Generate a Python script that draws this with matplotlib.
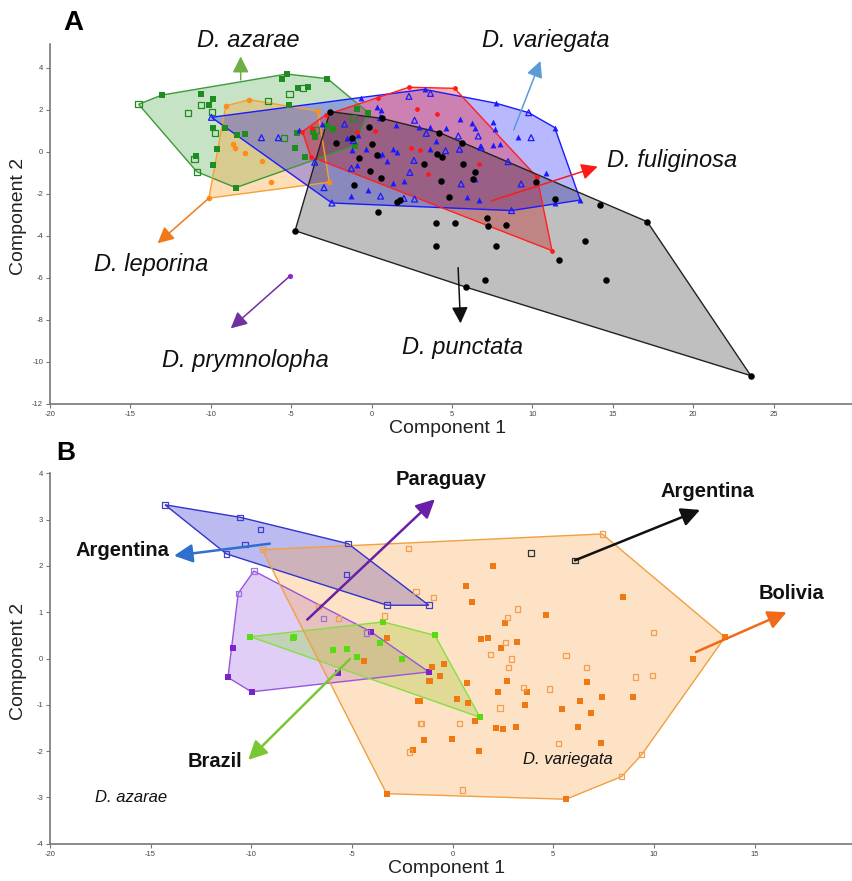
import numpy as np
import matplotlib.pyplot as plt

plt.rcParams['font.family'] = ['Liberation Sans', 'DejaVu Sans']
plt.rcParams['axes.unicode_minus'] = False

# ---------------- panel A data (component 1, component 2) ----------------
azarae_fill = [(-13.04, 2.71), (-5.28, 3.71), (-2.75, 3.49), (-0.2, 1.87), (-1.06, 0.3),
               (-8.45, -1.7), (-10.62, 2.76), (-9.86, 2.51), (-10.12, 2.24), (-5.55, 3.48),
               (-4.58, 3.03), (-3.93, 3.11), (-5.14, 2.25), (-9.09, 1.16), (-9.86, 1.14),
               (-9.61, 0.14), (-9.86, -0.6), (-10.93, -0.19), (-7.87, 0.87), (-8.4, 0.82),
               (-4.66, 0.92), (-4.78, 0.2), (-4.14, -0.25), (-3.65, 0.94), (-3.52, 0.73),
               (-2.8, 1.25), (-2.38, 1.08), (-0.89, 2.05)]
azarae_open = [(-14.49, 2.27), (-10.87, -0.94), (-11.43, 1.84), (-10.62, 2.25), (-9.92, 1.92),
               (-9.73, 0.92), (-11.01, -0.33), (-6.44, 2.44), (-5.11, 2.75), (-4.27, 3.03),
               (-5.47, 0.68), (-3.44, 1.06), (-1.14, 1.6)]
leporina = [(-9.07, 2.19), (-7.62, 2.49), (-3.35, 1.95), (-2.63, -1.44), (-10.12, -2.2),
            (-8.59, 0.4), (-8.49, 0.2), (-7.87, -0.05), (-6.81, -0.44), (-6.23, -1.44)]
variegata_fill = [(-0.68, 2.59), (3.29, 2.98), (7.74, 2.32), (11.39, 1.16), (12.98, -2.29),
                  (11.43, -2.44), (0.31, 2.13), (0.56, 2.0), (1.49, 1.29), (-4.51, 1.05),
                  (-3.06, 1.33), (-1.51, 0.65), (-0.85, 0.81), (-1.2, 0.1), (-0.37, 0.13),
                  (-0.89, -0.62), (0.45, -0.14), (0.66, -0.1), (0.98, -0.43), (1.6, 0.02),
                  (1.35, 0.14), (2.01, -1.38), (1.35, -1.49), (-0.23, -1.81), (-1.3, -2.08),
                  (2.94, 1.21), (3.66, 1.21), (3.98, 0.54), (3.66, 0.14), (4.6, 1.13),
                  (6.25, 1.37), (6.46, 1.16), (6.77, 0.3), (5.94, -2.13), (6.66, -2.29),
                  (5.47, 1.57), (7.53, 1.41), (7.66, 1.08), (9.09, 0.73), (7.56, 0.33),
                  (8.01, 0.37), (6.4, -1.27), (10.87, -1.02)]
variegata_open = [(-9.96, 1.65), (2.32, 2.65), (3.66, 2.79), (-1.68, 1.33), (0.56, 1.63),
                  (2.67, 1.51), (3.4, 0.89), (5.39, 0.76), (6.63, 0.76), (-1.26, -0.78),
                  (2.63, -0.4), (2.38, -0.97), (4.6, 0.06), (5.57, -1.52), (2.01, -2.21),
                  (2.67, -2.24), (-2.96, -1.7), (-2.47, -2.43), (-3.54, -0.49), (9.77, 1.87),
                  (8.7, -2.79), (8.49, -0.46), (9.3, -1.52), (9.92, 0.68), (5.47, 0.13),
                  (6.81, 0.22), (-6.85, 0.68), (-5.8, 0.68), (-1.14, 0.54), (0.56, -2.1)]
fuliginosa = [(-4.3, 0.97), (-3.79, -0.22), (11.22, -4.7), (10.29, -1.2), (5.16, 3.03),
              (2.32, 3.08), (0.41, 2.56), (-2.86, 1.76), (2.8, 2.03), (4.04, 1.79),
              (0.19, 1.02), (-0.93, 0.94), (2.47, 0.17), (3.04, 0.1), (3.52, -1.06),
              (6.69, -0.57), (-3.68, 1.13)]
punctata = [(-2.59, 1.92), (0.62, 1.6), (4.22, 0.92), (5.63, 0.41), (14.22, -2.54),
            (17.14, -3.32), (23.58, -10.65), (-4.76, -3.75), (-0.17, 1.2), (0.04, 0.37),
            (-0.79, -0.3), (-1.24, 0.65), (-2.19, 0.41), (0.35, -0.14), (-0.1, -0.9),
            (0.6, -1.25), (-1.1, -1.57), (1.6, -2.4), (1.76, -2.29), (0.41, -2.84),
            (3.25, -0.59), (4.08, -0.11), (4.39, -0.22), (4.29, -1.38), (4.84, -2.13),
            (5.7, -0.59), (6.46, -0.97), (6.32, -1.29), (4.02, -3.4), (5.16, -3.4),
            (7.19, -3.13), (7.23, -3.51), (8.37, -3.48), (3.98, -4.49), (7.75, -4.46),
            (13.25, -4.25), (11.63, -5.13), (7.08, -6.11), (5.88, -6.44), (14.6, -6.11),
            (11.43, -2.24), (10.23, -1.44)]
prymnolopha = [(-5.07, -5.9)]

# arrows: (start, end), labels with their positions
a_labels = ['D. azarae', 'D. leporina', 'D. prymnolopha', 'D. punctata', 'D. variegata', 'D. fuliginosa']
a_label_pos = [(-7.7, 5.33), (-13.73, -5.38), (-7.83, -9.95), (5.65, -9.33), (10.8, 5.33), (18.68, -0.43)]
a_arrows = [((-8.14, 3.43), (-8.14, 4.55)), ((-10.12, -2.2), (-13.31, -4.35)),
            ((-5.07, -5.9), (-8.76, -8.4)), ((5.38, -5.51), (5.53, -8.16)),
            ((8.84, 1.05), (10.5, 4.33)), ((7.45, -2.33), (14.06, -0.7))]
a_arrow_colors = ['#70ad47', '#f07a1a', '#7030a0', '#111111', '#5b9bd5', '#ff1a1a']

# ---------------- panel B data ----------------
arg_azarae = [(-14.29, 3.32), (-10.56, 3.05), (-5.19, 2.48), (-1.18, 1.15), (-3.25, 1.15),
              (-11.24, 2.26), (-9.54, 2.79), (-10.32, 2.46), (-5.27, 1.81)]
par_open = [(-9.87, 1.89), (-10.65, 1.41), (-4.27, 0.55), (-6.43, 0.86)]
par_fill = [(-10.9, 0.22), (-11.16, -0.41), (-9.99, -0.72), (-1.18, -0.29), (-5.68, -0.32),
            (-4.07, 0.58)]
brazil = [(-10.04, 0.47), (-3.45, 0.79), (-0.88, 0.5), (1.36, -1.27), (-7.92, 0.44),
          (-7.9, 0.47), (-5.93, 0.19), (-5.27, 0.2), (-4.74, 0.04), (-3.61, 0.33), (-2.53, -0.01)]
bol_fill = [(13.53, 0.46), (5.63, -3.04), (-3.28, -2.92), (2.02, 1.99), (0.66, 1.57),
            (0.97, 1.22), (8.44, 1.33), (4.62, 0.94), (2.6, 0.76), (3.18, 0.35), (1.77, 0.45),
            (1.41, 0.43), (2.38, 0.22), (11.92, 0.0), (-0.42, -0.12), (-0.63, -0.37),
            (-1.13, -0.48), (0.73, -0.52), (2.68, -0.48), (6.66, -0.51), (2.24, -0.73),
            (3.68, -0.73), (3.59, -1.0), (0.2, -0.87), (0.78, -0.96), (1.11, -1.35),
            (2.15, -1.51), (2.51, -1.53), (3.13, -1.47), (6.32, -0.91), (7.4, -0.84),
            (8.97, -0.84), (5.41, -1.09), (6.87, -1.17), (6.24, -1.49), (7.37, -1.83),
            (-0.02, -1.74), (-1.43, -1.77), (1.31, -1.99), (-1.62, -0.91), (-3.28, 0.45),
            (-4.39, -0.06), (-1.71, -0.91), (-1.96, -1.97), (-1.16, -0.48), (-1.04, -0.19)]
bol_open = [(-9.46, 2.35), (7.43, 2.69), (9.39, -2.08), (8.4, -2.55), (0.48, -2.84),
            (-0.96, 1.32), (3.21, 1.07), (2.71, 0.89), (2.63, 0.35), (1.89, 0.09),
            (2.93, -0.01), (2.76, -0.19), (5.63, 0.06), (9.97, 0.57), (6.66, -0.19),
            (9.09, -0.4), (9.94, -0.37), (3.51, -0.62), (4.83, -0.66), (2.35, -1.07),
            (0.33, -1.41), (-1.54, -1.41), (5.25, -1.83), (-2.2, 2.37), (-1.82, 1.45),
            (-3.4, 0.92), (-5.68, 0.86), (-1.59, -1.4), (-2.16, -2.02), (-6.66, 1.12)]
arg_variegata = [(3.89, 2.28), (6.08, 2.12)]

b_labels = ['Argentina', 'Paraguay', 'Brazil', 'Argentina', 'Bolivia']
b_label_pos = [(-16.38, 2.34), (-0.58, 3.86), (-11.8, -2.22), (12.65, 3.6), (16.84, 1.41)]
b_arrows = [((-9.08, 2.48), (-13.84, 2.22)), ((-7.22, 0.84), (-0.88, 3.44)),
            ((-5.1, -0.01), (-10.15, -2.19)), ((6.08, 2.12), (12.29, 3.21)),
            ((12.09, 0.14), (16.59, 1.0))]
b_arrow_colors = ['#2f6fce', '#6a1fa8', '#77c832', '#111111', '#f06a1a']
b_species = ['D. azarae', 'D. variegata']
b_species_pos = [(-15.98, -3.0), (5.74, -2.19)]


def hull(pts):
    pts = sorted(set(pts))

    def cross(o, a, b):
        return (a[0] - o[0]) * (b[1] - o[1]) - (a[1] - o[1]) * (b[0] - o[0])
    lower, upper = [], []
    for p in pts:
        while len(lower) >= 2 and cross(lower[-2], lower[-1], p) <= 0:
            lower.pop()
        lower.append(p)
    for p in reversed(pts):
        while len(upper) >= 2 and cross(upper[-2], upper[-1], p) <= 0:
            upper.pop()
        upper.append(p)
    return np.array(lower[:-1] + upper[:-1])


def group(ax, filled, opened, marker, color, fillc, edgec, alpha, s, mcolor_open=None):
    h = hull(filled + opened)
    ax.fill(h[:, 0], h[:, 1], facecolor=fillc, alpha=alpha, edgecolor='none', zorder=1)
    ax.fill(h[:, 0], h[:, 1], facecolor='none', edgecolor=edgec, lw=1.0, zorder=2)
    if filled:
        f = np.array(filled)
        ax.scatter(f[:, 0], f[:, 1], marker=marker, s=s, color=color, zorder=3, linewidths=0)
    if opened:
        o = np.array(opened)
        ax.scatter(o[:, 0], o[:, 1], marker=marker, s=s, facecolor='none',
                   edgecolor=mcolor_open or color, linewidths=0.9, zorder=3)


def style(ax):
    for sp in ['top', 'right']:
        ax.spines[sp].set_visible(False)
    for sp in ['left', 'bottom']:
        ax.spines[sp].set_color('#777777')
        ax.spines[sp].set_linewidth(1.2)
    ax.tick_params(direction='out', length=3, width=0.8, color='#777777',
                   labelsize=5.5, labelcolor='#444444', pad=2)


fig = plt.figure(figsize=(8.53, 8.81), dpi=100)

# ---------------- A ----------------
axA = fig.add_axes([50 / 853, 1 - 404 / 881, 804 / 853, 360 / 881])
group(axA, azarae_fill, azarae_open, 's', '#1e8c1e', '#23931a', '#3c9a3c', 0.25, 20)
group(axA, leporina, [], 'o', '#ff8c1a', '#ff9a20', '#f5a030', 0.32, 16)
group(axA, variegata_fill, variegata_open, '^', '#1a1aff', '#0000ff', '#1a1aff', 0.28, 18)
group(axA, fuliginosa, [], 'o', '#ff1a1a', '#ff0000', '#ff2020', 0.3, 12)
group(axA, punctata, [], 'o', '#000000', '#000000', '#222222', 0.25, 22)
p = np.array(prymnolopha)
axA.scatter(p[:, 0], p[:, 1], marker='o', s=14, color='#8a2be2', zorder=3, linewidths=0)

for (st, en), c in zip(a_arrows, a_arrow_colors):
    axA.annotate('', xy=en, xytext=st, zorder=4,
                 arrowprops=dict(arrowstyle='-|>,head_length=0.7,head_width=0.35',
                                 color=c, lw=1.1, shrinkA=0, shrinkB=0, mutation_scale=14))
for t, (x, y) in zip(a_labels, a_label_pos):
    axA.text(x, y, t, fontsize=17, style='italic', ha='center', va='center', color='#111111')

axA.set_xlim(-20, 30)
axA.set_ylim(-12, 5.14)
axA.set_xticks([-20, -15, -10, -5, 0, 5, 10, 15, 20, 25])
axA.set_yticks([-12, -10, -8, -6, -4, -2, 0, 2, 4])
style(axA)
axA.set_xlabel('Component 1', fontsize=14, color='#222222')
axA.set_ylabel('Component 2', fontsize=14, color='#222222')
axA.xaxis.set_label_coords(0.494, -0.045)
axA.yaxis.set_label_coords(-0.029, 0.522)
fig.text(73 / 853, 1 - 23 / 881, 'A', fontsize=20, fontweight='bold', ha='center', va='center')

# ---------------- B ----------------
axB = fig.add_axes([50 / 853, 1 - 843.7 / 881, 802 / 853, 370.4 / 881])
group(axB, [], arg_azarae, 's', '#3333cc', '#3c3cdc', '#3333cc', 0.35, 16, '#4040c8')
group(axB, par_fill, par_open, 's', '#7a22cc', '#9b5de5', '#9955dd', 0.3, 14, '#a070d8')
group(axB, brazil, [], 's', '#55dd11', '#7fdd22', '#88dd44', 0.3, 14)
group(axB, bol_fill, bol_open, 's', '#f07810', '#f9a040', '#f0a040', 0.3, 14, '#f0a050')
av = np.array(arg_variegata)
axB.scatter(av[:, 0], av[:, 1], marker='s', s=16, facecolor='none', edgecolor='#333333',
            linewidths=0.9, zorder=3)

for (st, en), c in zip(b_arrows, b_arrow_colors):
    axB.annotate('', xy=en, xytext=st, zorder=4,
                 arrowprops=dict(arrowstyle='-|>,head_length=0.7,head_width=0.35',
                                 color=c, lw=1.8, shrinkA=0, shrinkB=0, mutation_scale=16))
for t, (x, y) in zip(b_labels, b_label_pos):
    axB.text(x, y, t, fontsize=14.5, fontweight='bold', ha='center', va='center', color='#111111')
for t, (x, y) in zip(b_species, b_species_pos):
    axB.text(x, y, t, fontsize=12, style='italic', ha='center', va='center', color='#111111')

axB.set_xlim(-20, 19.84)
axB.set_ylim(-4, 4)
axB.set_xticks([-20, -15, -10, -5, 0, 5, 10, 15])
axB.set_yticks([-4, -3, -2, -1, 0, 1, 2, 3, 4])
style(axB)
axB.set_xlabel('Component 1', fontsize=14, color='#222222')
axB.set_ylabel('Component 2', fontsize=14, color='#222222')
axB.xaxis.set_label_coords(0.494, -0.044)
axB.yaxis.set_label_coords(-0.029, 0.493)
fig.text(66 / 853, 1 - 453 / 881, 'B', fontsize=19, fontweight='bold', ha='center', va='center')

fig.savefig('out.png', dpi=100)
